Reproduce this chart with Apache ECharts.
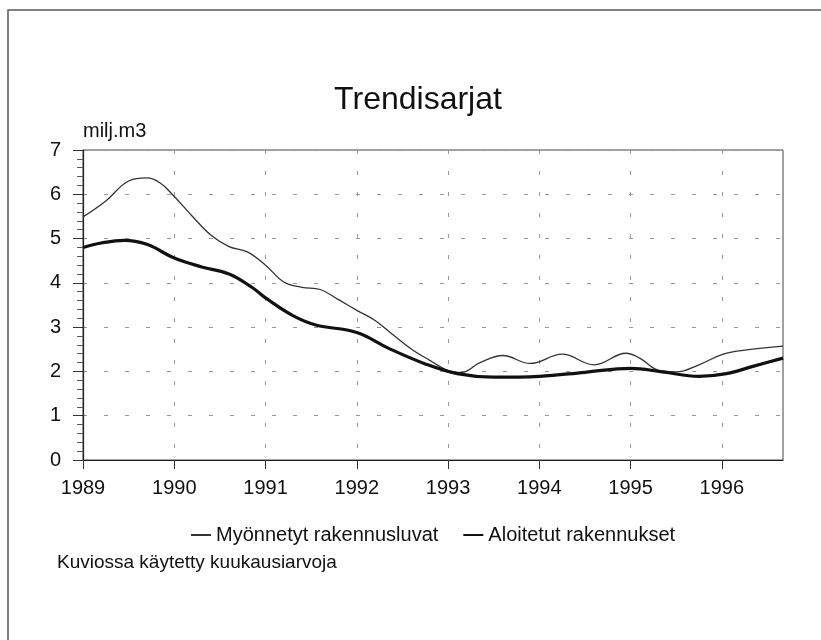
<!DOCTYPE html>
<html>
<head>
<meta charset="utf-8">
<script src="https://cdn.jsdelivr.net/npm/echarts@6/dist/echarts.min.js"></script>
<style>
    html, body { margin: 0; padding: 0; background: #fff; }
    #chart { width: 821px; height: 640px; }
</style>
</head>
<body>
<div id="chart"></div>
<script>
    // vuodet akselilla
    var yearTicks = [1989, 1990, 1991, 1992, 1993, 1994, 1995, 1996];

    // Myönnetyt rakennusluvat (trendi, milj. m3)
    var permitTimes = [1989.0, 1989.25, 1989.5, 1989.7, 1989.85, 1990.0, 1990.2, 1990.4, 1990.6, 1990.8,
        1991.0, 1991.2, 1991.4, 1991.6, 1991.8, 1992.0, 1992.2, 1992.4, 1992.6, 1992.8,
        1993.0, 1993.15, 1993.35, 1993.6, 1993.9, 1994.25, 1994.6, 1994.95, 1995.1, 1995.3,
        1995.5, 1995.75, 1996.0, 1996.25, 1996.67];
    var permitValues = [5.49, 5.85, 6.3, 6.37, 6.25, 5.95, 5.5, 5.08, 4.82, 4.7,
        4.4, 4.02, 3.9, 3.85, 3.62, 3.38, 3.15, 2.82, 2.5, 2.25,
        2.02, 1.98, 2.2, 2.36, 2.18, 2.39, 2.15, 2.41, 2.3, 2.03,
        1.99, 2.15, 2.38, 2.48, 2.57];

    // Aloitetut rakennukset (trendi, milj. m3)
    var startTimes = [1989.0, 1989.2, 1989.45, 1989.7, 1990.0, 1990.3, 1990.6, 1990.85, 1991.0, 1991.3,
        1991.55, 1992.0, 1992.35, 1992.75, 1993.1, 1993.5, 1994.0, 1994.5, 1995.0, 1995.35,
        1995.75, 1996.05, 1996.35, 1996.67];
    var startValues = [4.8, 4.9, 4.96, 4.87, 4.56, 4.36, 4.2, 3.9, 3.66, 3.26,
        3.05, 2.88, 2.52, 2.17, 1.95, 1.87, 1.89, 1.98, 2.07, 1.99,
        1.89, 1.95, 2.12, 2.3];

    function pairs(xs, ys) {
        return xs.map(function (x, i) { return [x, ys[i]]; });
    }

    var font = 'Liberation Sans, Arial, Helvetica, sans-serif';

    var option = {
        animation: false,
        backgroundColor: '#fff',
        textStyle: { fontFamily: font, color: '#111' },
        graphic: [
            {
                type: 'rect',
                shape: { x: 8, y: 10, width: 900, height: 700 },
                style: { fill: 'none', stroke: '#555', lineWidth: 1.5 },
                silent: true
            },
            {
                type: 'text',
                x: 418, y: 100,
                style: { text: 'Trendisarjat', fontSize: 32, fontFamily: font, fill: '#111',
                    textAlign: 'center', textVerticalAlign: 'middle' }
            },
            {
                type: 'text',
                x: 57, y: 563,
                style: { text: 'Kuviossa käytetty kuukausiarvoja', fontSize: 19, fontFamily: font, fill: '#111',
                    textAlign: 'left', textVerticalAlign: 'middle' }
            }
        ],
        grid: {
            left: 83,
            right: 38,
            top: 150,
            bottom: 180,
            show: true,
            borderColor: '#444',
            borderWidth: 1
        },
        legend: {
            left: 185,
            top: 520,
            itemWidth: 20,
            itemHeight: 14,
            itemGap: 24,
            textStyle: { fontSize: 20, color: '#111', fontFamily: font },
            itemStyle: { color: 'rgba(0,0,0,0)', borderWidth: 0 },
            data: ['Myönnetyt rakennusluvat', 'Aloitetut rakennukset']
        },
        xAxis: {
            type: 'value',
            min: 1989,
            max: 1996.67,
            interval: 1,
            axisLine: { lineStyle: { color: '#222', width: 1.2 } },
            axisTick: { show: true, length: 9, customValues: yearTicks, lineStyle: { color: '#333' } },
            axisLabel: {
                fontSize: 20, color: '#111', margin: 18, customValues: yearTicks,
                formatter: function (v) { return String(Math.round(v)); }
            },
            splitLine: { show: true, lineStyle: { color: '#999', type: [4, 17], width: 1 } }
        },
        yAxis: {
            type: 'value',
            min: 0,
            max: 7,
            interval: 1,
            name: 'milj.m3',
            nameLocation: 'end',
            nameGap: 19,
            nameTextStyle: { fontSize: 20, color: '#111', align: 'left', verticalAlign: 'middle', padding: [0, 0, 0, 0] },
            axisLine: { show: true, lineStyle: { color: '#222', width: 1.2 } },
            axisTick: { show: true, length: 10, lineStyle: { color: '#333' } },
            minorTick: { show: true, splitNumber: 5, length: 6, lineStyle: { color: '#555' } },
            axisLabel: { fontSize: 20, color: '#111', margin: 22 },
            splitLine: { show: true, lineStyle: { color: '#999', type: [4, 17], width: 1 } }
        },
        series: [
            {
                name: 'Myönnetyt rakennusluvat',
                type: 'line',
                smooth: 0.4,
                symbol: 'none',
                lineStyle: { color: '#333', width: 1.3 },
                itemStyle: { color: '#333' },
                data: pairs(permitTimes, permitValues)
            },
            {
                name: 'Aloitetut rakennukset',
                type: 'line',
                smooth: 0.4,
                symbol: 'none',
                lineStyle: { color: '#111', width: 3.2 },
                itemStyle: { color: '#111' },
                data: pairs(startTimes, startValues)
            }
        ]
    };

    var chart = echarts.init(document.getElementById('chart'));
    chart.setOption(option);
</script>
</body>
</html>
